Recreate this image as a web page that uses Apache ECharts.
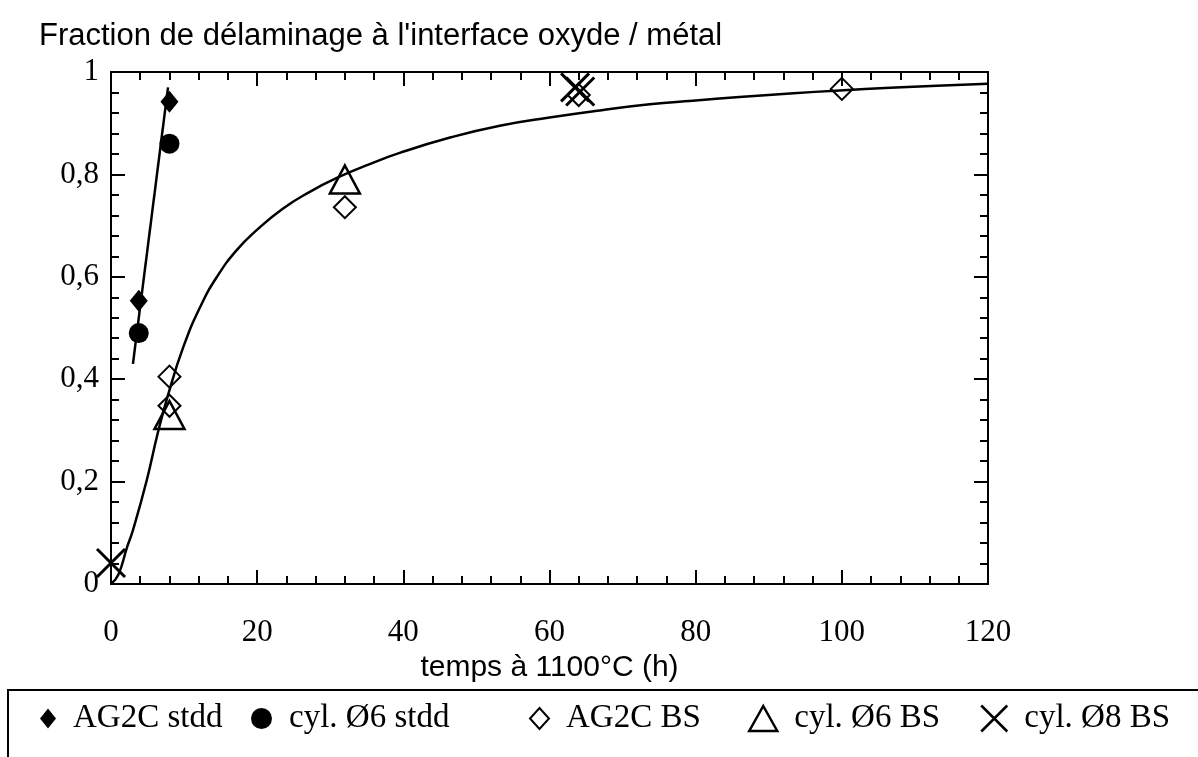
<!DOCTYPE html>
<html>
<head>
<meta charset="utf-8">
<script src="https://cdn.jsdelivr.net/npm/echarts@6/dist/echarts.min.js"></script>
<style>
  html, body { margin: 0; padding: 0; background: #fff; }
  #chart { width: 1198px; height: 757px; }
</style>
</head>
<body>
<div id="chart"></div>
<script>
// valeurs
var ag2cStddT = [3.8, 8];
var ag2cStddF = [0.553, 0.942];
var cyl6StddT = [3.8, 8];
var cyl6StddF = [0.49, 0.86];
var ag2cBsT = [8, 8, 32, 64, 100];
var ag2cBsF = [0.405, 0.348, 0.736, 0.955, 0.967];
var cyl6BsT = [8, 32];
var cyl6BsF = [0.33, 0.79];
var cyl8BsT = [0, 63.5, 64.2];
var cyl8BsF = [0.041, 0.97, 0.962];
// droite des essais stdd
var stddLineT = [3.0, 7.8];
var stddLineF = [0.43, 0.97];
// courbe d'ajustement
var fitT = [0, 1, 2.2, 3, 4.9, 6.4, 7.8, 9.9, 12.2, 14.5, 17.2, 20, 23.5, 27.2, 30.9, 35.4, 39.5, 46.4, 53.2, 60, 66.9, 73.7, 79.6, 86, 92.9, 99.7, 106.6, 113, 120];
var fitF = [0, 0.018, 0.072, 0.105, 0.203, 0.295, 0.369, 0.463, 0.541, 0.600, 0.652, 0.692, 0.733, 0.766, 0.793, 0.820, 0.842, 0.872, 0.895, 0.911, 0.925, 0.937, 0.944, 0.951, 0.958, 0.964, 0.969, 0.973, 0.977];

var xTicks = [0, 20, 40, 60, 80, 100, 120];
var yTicks = [0, 0.2, 0.4, 0.6, 0.8, 1];

var SERIF = 'Liberation Serif';
var SANS = 'Liberation Sans';
var CROSS = 'path://M0,0L20,20M20,0L0,20';

function zip(a, b) {
    return a.map(function (v, i) { return [v, b[i]]; });
}

function axisBase(pos) {
    return {
        position: pos,
        axisLine: { show: true, onZero: false, lineStyle: { color: '#000', width: 2 } },
        axisTick: { show: true, inside: true, length: 14, lineStyle: { color: '#000', width: 2 } },
        minorTick: { show: true, splitNumber: 5, length: 8, lineStyle: { color: '#000', width: 2 } },
        splitLine: { show: false },
        axisLabel: { show: false }
    };
}

var xBottom = axisBase('bottom');
xBottom.type = 'value'; xBottom.min = xTicks[0]; xBottom.max = xTicks[xTicks.length - 1]; xBottom.interval = 20;
xBottom.axisLabel = { show: true, margin: 33, color: '#000', fontFamily: SERIF, fontSize: 31 };
xBottom.name = 'temps à 1100°C (h)';
xBottom.nameLocation = 'middle';
xBottom.nameGap = 66;
xBottom.nameTextStyle = { color: '#000', fontFamily: SANS, fontSize: 30 };

var xTop = axisBase('top');
xTop.type = 'value'; xTop.min = 0; xTop.max = 120; xTop.interval = 20;

var yLeft = axisBase('left');
yLeft.type = 'value'; yLeft.min = yTicks[0]; yLeft.max = yTicks[yTicks.length - 1]; yLeft.interval = 0.2;
yLeft.axisLabel = {
    show: true, margin: 12, color: '#000', fontFamily: SERIF, fontSize: 31,
    formatter: function (v) { return String(+v.toFixed(1)).replace('.', ','); }
};

var yRight = axisBase('right');
yRight.type = 'value'; yRight.min = 0; yRight.max = 1; yRight.interval = 0.2;

var filledStyle = { color: '#000', opacity: 1, borderWidth: 0 };
var openStyle = { color: 'rgba(0,0,0,0)', borderColor: '#000', borderWidth: 2, opacity: 1 };
var thickOpen = { color: 'rgba(0,0,0,0)', borderColor: '#000', borderWidth: 2.5, opacity: 1 };

function oneLegend(name, left, w, h, icon, style) {
    return {
        left: left, top: 702, padding: 0, orient: 'horizontal',
        itemWidth: w, itemHeight: h, selectedMode: false,
        data: [{ name: name, icon: icon, itemStyle: style }],
        textStyle: { color: '#000', fontFamily: SERIF, fontSize: 33, padding: [0, 0, 0, 12] }
    };
}

var option = {
    backgroundColor: '#fff',
    animation: false,
    title: {
        text: "Fraction de délaminage à l'interface oxyde / métal",
        left: 34, top: 16,
        textStyle: { color: '#000', fontFamily: SANS, fontSize: 31, fontWeight: 'normal' }
    },
    grid: { left: 111, right: 210, top: 72, bottom: 173, containLabel: false },
    xAxis: [xBottom, xTop],
    yAxis: [yLeft, yRight],
    legend: [
        oneLegend('AG2C stdd', 40, 16, 20, 'diamond', filledStyle),
        oneLegend('cyl. Ø6 stdd', 251, 21, 21, 'circle', filledStyle),
        oneLegend('AG2C BS', 529, 19, 21, 'diamond', openStyle),
        oneLegend('cyl. Ø6 BS', 748, 28, 25, 'triangle', thickOpen),
        oneLegend('cyl. Ø8 BS', 980, 26, 26, CROSS, thickOpen)
    ],
    graphic: [{
        type: 'rect', silent: true,
        shape: { x: 8, y: 690, width: 1400, height: 200 },
        style: { fill: 'none', stroke: '#000', lineWidth: 2 }
    }],
    series: [
        {
            name: 'ajustement', type: 'line', data: zip(fitT, fitF),
            symbol: 'none', smooth: true, z: 1,
            lineStyle: { color: '#000', width: 2.5 }
        },
        {
            name: 'droite stdd', type: 'line', data: zip(stddLineT, stddLineF),
            symbol: 'none', z: 1,
            lineStyle: { color: '#000', width: 2.5 }
        },
        {
            name: 'AG2C stdd', type: 'scatter', data: zip(ag2cStddT, ag2cStddF),
            symbol: 'diamond', symbolSize: [18, 22], z: 3,
            itemStyle: filledStyle
        },
        {
            name: 'cyl. Ø6 stdd', type: 'scatter', data: zip(cyl6StddT, cyl6StddF),
            symbol: 'circle', symbolSize: 20, z: 3,
            itemStyle: filledStyle
        },
        {
            name: 'AG2C BS', type: 'scatter', data: zip(ag2cBsT, ag2cBsF),
            symbol: 'diamond', symbolSize: [22, 22], z: 3,
            itemStyle: openStyle
        },
        {
            name: 'cyl. Ø6 BS', type: 'scatter', data: zip(cyl6BsT, cyl6BsF),
            symbol: 'triangle', symbolSize: [30, 28], z: 3,
            itemStyle: thickOpen
        },
        {
            name: 'cyl. Ø8 BS', type: 'scatter', data: zip(cyl8BsT, cyl8BsF),
            symbol: CROSS, symbolSize: 28, z: 4,
            itemStyle: { color: 'rgba(0,0,0,0)', borderColor: '#000', borderWidth: 3, opacity: 1 }
        }
    ]
};

var myChart = echarts.init(document.getElementById('chart'));
myChart.setOption(option);
</script>
</body>
</html>
